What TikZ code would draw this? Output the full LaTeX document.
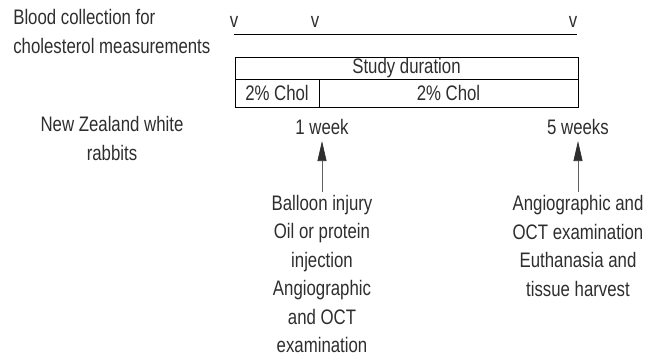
\documentclass[tikz,border=0pt]{standalone}
\usepackage{fontspec}
\setmainfont{Liberation Sans}[FakeStretch=0.8]
\usepackage{xcolor}
\usepackage{tikz}
\usetikzlibrary{
    arrows.meta
}
\definecolor{inkgray}{gray}{0.18}

\begin{document}
\begin{tikzpicture}[x=1pt,y=-1pt,>={Triangle[length=20pt,width=9pt,color=inkgray]},semithick]
    \tikzstyle{every node}=[inner sep=0pt, text=inkgray, font=\fontsize{21}{28.5}\selectfont]
    \tikzstyle{cell}=[draw=black, line width=0.8pt, minimum height=22pt, inner sep=0pt]
    \tikzstyle{label}=[align=center]
    \tikzstyle{evarrow}=[->, draw=gray!75!black, line width=0.7pt]
    \useasboundingbox (0,0) rectangle (658,357);
	\node [anchor=west, align=left] (blood) at (13, 31.5)
	{Blood collection for\\ cholesterol measurements};
	\node (v1) at (234, 22) {v};
	\node (v2) at (315, 22) {v};
	\node (v3) at (573, 22) {v};
	\coordinate (tl0) at (234, 34);
	\coordinate (tl1) at (577, 34);
	\draw [line width=0.8pt] (tl0) -- (tl1);
	\node [cell, minimum width=343pt] (study) at (406.5, 68) {Study duration};
	\node [cell, minimum width=84pt, minimum height=28pt] (chol1) at (277, 93) {2\% Chol};
	\node [cell, minimum width=259pt, minimum height=28pt] (chol2) at (448.5, 93) {2\% Chol};
	\node [label] (rabbits) at (112, 138.5) {New Zealand white\\ rabbits};
	\node (week1) at (322, 127) {1 week};
	\node (week5) at (578, 127) {5 weeks};
	\node [label] (ev1) at (322, 274)
	{Balloon injury\\ Oil or protein\\ injection\\ Angiographic\\ and OCT\\ examination};
	\node [label] (ev5) at (578, 246)
	{Angiographic and\\ OCT examination\\ Euthanasia and\\ tissue harvest};

	\draw [evarrow, shorten <=3pt, shorten >=6pt] (ev1.north) -- (week1.south);
	\draw [evarrow, shorten <=3pt, shorten >=6pt] (ev5.north) -- (week5.south);
\end{tikzpicture}
\end{document}
